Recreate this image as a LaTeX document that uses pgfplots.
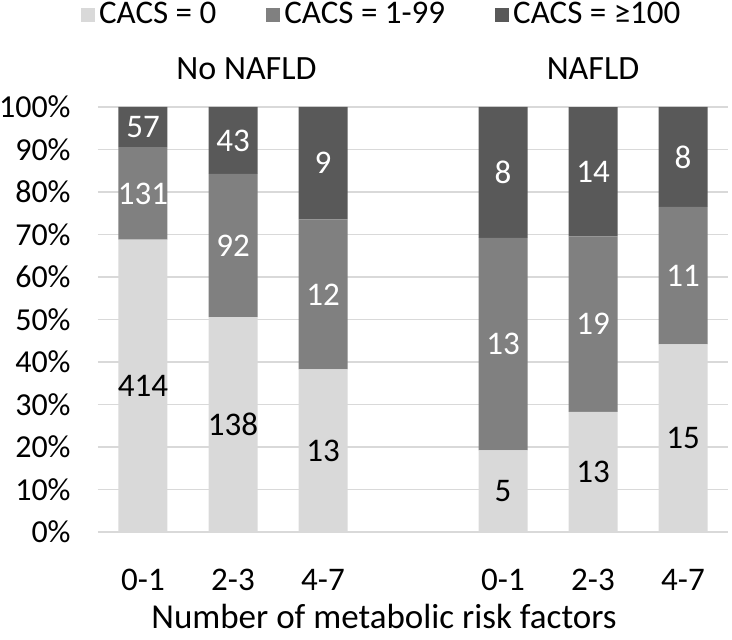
\documentclass[border=0pt]{standalone}
\usepackage{fontspec}
\setmainfont{Carlito}
\usepackage{pgfplots}
\usepackage{pgfplotstable}
\pgfplotsset{compat=1.18}

\definecolor{cacsA}{HTML}{D9D9D9}
\definecolor{cacsB}{HTML}{808080}
\definecolor{cacsC}{HTML}{595959}
\definecolor{gridc}{HTML}{D9D9D9}

% x: bar slot, pct: share of the group (%), n: count
\pgfplotstableread{
x pct n
0 68.77 414
1 50.55 138
2 38.24 13
4 19.23 5
5 28.26 13
6 44.12 15
}\zero
\pgfplotstableread{
x pct n
0 21.76 131
1 33.70 92
2 35.29 12
4 50.00 13
5 41.30 19
6 32.35 11
}\low
\pgfplotstableread{
x pct n
0 9.47 57
1 15.75 43
2 26.47 9
4 30.77 8
5 30.43 14
6 23.53 8
}\high

\begin{document}
\fontsize{16.5}{19}\selectfont
\begin{tikzpicture}
\begin{axis}[
	name=ax,
	scale only axis,
	width=315pt,
	height=212.5pt,
	clip=false,
	ybar stacked,
	bar width=24.5pt,
	xmin=-0.5, xmax=6.5,
	ymin=0, ymax=100,
	xtick={0,1,2,4,5,6},
	xticklabels={0-1,2-3,4-7,0-1,2-3,4-7},
	ytick={0,10,...,100},
	yticklabel={\pgfmathprintnumber{\tick}\%},
	/pgf/number format/assume math mode=true,
	major tick length=0pt,
	axis line style={draw=none},
	ymajorgrids,
	grid style={draw=gridc, line width=0.8pt},
	yticklabel style={xshift=-8pt, font=\fontsize{16}{19}\selectfont},
	xticklabel style={yshift=-13pt},
	xlabel={Number of metabolic risk factors},
	xlabel style={at={(axis description cs:0.454,0)}, anchor=center, yshift=-42pt,
		font=\fontsize{17.5}{20}\selectfont},
	legend style={at={(axis description cs:0.452,1)}, anchor=center, yshift=46pt,
		draw=none, fill=none, legend columns=3,
		/tikz/every even column/.append style={column sep=23pt}},
	legend image code/.code={\fill[#1] (0pt,-3.5pt) rectangle (7pt,3.5pt);},
	nodes near coords,
	point meta=explicit symbolic,
	every node near coord/.append style={anchor=center},
]
\addplot[fill=cacsA, draw=none, every node near coord/.append style={text=black}]
	table[x=x, y=pct, meta=n] {\zero};
\addplot[fill=cacsB, draw=none, every node near coord/.append style={text=white}]
	table[x=x, y=pct, meta=n] {\low};
\addplot[fill=cacsC, draw=none, every node near coord/.append style={text=white}]
	table[x=x, y=pct, meta=n] {\high};
\legend{CACS = 0, CACS = 1-99, CACS = ≥100}
\node[yshift=19pt, font=\fontsize{17}{20}\selectfont] at (axis cs:1.15,100) {No NAFLD};
\node[yshift=19pt, font=\fontsize{17}{20}\selectfont] at (axis cs:5,100) {NAFLD};
\end{axis}
\pgfresetboundingbox
\path (ax.south west) ++(-49pt,-54pt) rectangle ++(366pt,320pt);
\end{tikzpicture}
\end{document}
